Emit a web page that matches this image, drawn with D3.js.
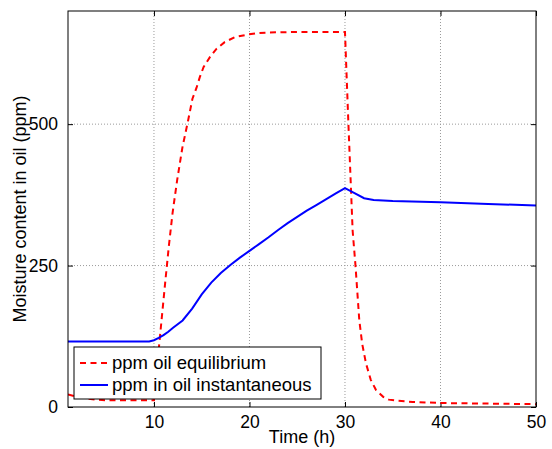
<!DOCTYPE html>
<html>
<head>
<meta charset="utf-8">
<script src="https://cdn.jsdelivr.net/npm/d3@7"></script>
<style>
  body { margin: 0; background: #fff; }
  svg { display: block; font-family: "Liberation Sans", Arial, sans-serif; }
</style>
</head>
<body>
<svg></svg>
<script>
// equilibrium curve (red dashed)
let eqTime = [1, 2, 3, 4, 5, 6, 7, 8, 9, 10, 10.25, 10.54, 10.86, 11.2, 11.55, 11.94, 12.42, 12.98, 13.57, 14.03, 14.45, 14.8, 15.2, 15.84, 16.54, 17.4, 18.5, 19.7, 20.8, 22, 25, 28, 30, 30.36, 30.8, 31.1, 31.5, 31.8, 32.2, 32.7, 33.25, 34, 34.6, 35.5, 37.1, 40, 45, 50]
let eqPpm  = [22, 18, 15, 13, 12, 12, 12, 12, 12, 12, 58, 109, 165, 224, 283, 342, 400, 459, 506, 545, 564, 583, 601, 618, 633, 645, 654, 658, 661, 662, 663, 663, 663, 500, 312, 250, 153, 112, 77, 48, 30, 18, 13, 11, 9, 7, 6, 5]

// instantaneous curve (blue solid)
let instTime = [1, 3, 5, 7, 9, 9.5, 10, 10.5, 11, 11.5, 12, 13, 14, 15, 16, 17, 18, 19, 20, 21, 22, 23, 24, 25, 26, 27, 28, 29, 30, 31, 32, 33, 34, 35, 40, 45, 50]
let instPpm  = [116, 116, 116, 116, 116, 116, 118, 122, 127, 133, 140, 153, 174, 199, 220, 237, 251, 264, 276, 288, 300, 313, 325, 336, 347, 357, 367, 377, 387, 378, 369, 366, 365, 364, 362, 359, 356]

let xTicks = [10, 20, 30, 40, 50]
let yTicks = [0, 250, 500]
let legendLabels = ['ppm oil equilibrium', 'ppm in oil instantaneous']

let width = 552
let height = 449
let margin = {top: 11, right: 16, bottom: 42, left: 68}

let svg = d3.select('svg')
    .attr('width', width)
    .attr('height', height)

let x = d3.scaleLinear()
    .domain([1, 50])
    .range([margin.left, width - margin.right])
let y = d3.scaleLinear()
    .domain([0, 700])
    .range([height - margin.bottom, margin.top])

// grid
svg.append('g')
   .selectAll('line')
   .data(xTicks.filter(d => d < 50))
   .enter()
   .append('line')
   .attr('x1', d => x(d)).attr('x2', d => x(d))
   .attr('y1', y(0)).attr('y2', y(700))
   .attr('stroke', '#9a9a9a')
   .attr('stroke-dasharray', '1,2')
svg.append('g')
   .selectAll('line')
   .data(yTicks.filter(d => d > 0))
   .enter()
   .append('line')
   .attr('y1', d => y(d)).attr('y2', d => y(d))
   .attr('x1', x(1)).attr('x2', x(50))
   .attr('stroke', '#9a9a9a')
   .attr('stroke-dasharray', '1,2')

// axes: ticks inward on all four sides
let tickLen = 5
let xAxisB = d3.axisBottom(x).tickValues(xTicks).tickSize(-tickLen).tickPadding(9)
let xAxisT = d3.axisTop(x).tickValues(xTicks).tickSize(-tickLen).tickFormat('')
let yAxisL = d3.axisLeft(y).tickValues(yTicks).tickSize(-tickLen).tickPadding(10)
let yAxisR = d3.axisRight(y).tickValues(yTicks).tickSize(-tickLen).tickFormat('')

let styleAxis = g => {
    g.select('.domain').remove()
    g.selectAll('line').attr('stroke', '#000')
    g.selectAll('text').attr('fill', '#000').style('font-size', '17.5px')
}

svg.append('g').attr('transform', 'translate(0,' + y(0) + ')').call(xAxisB).call(styleAxis)
svg.append('g').attr('transform', 'translate(0,' + y(700) + ')').call(xAxisT).call(styleAxis)
svg.append('g').attr('transform', 'translate(' + x(1) + ',0)').call(yAxisL).call(styleAxis)
svg.append('g').attr('transform', 'translate(' + x(50) + ',0)').call(yAxisR).call(styleAxis)

// lines
let clip = svg.append('clipPath').attr('id', 'plot')
clip.append('rect')
    .attr('x', x(1)).attr('y', y(700))
    .attr('width', x(50) - x(1)).attr('height', y(0) - y(700))

let line = d3.line()
    .x(d => x(d[0]))
    .y(d => y(d[1]))

svg.append('path')
   .datum(d3.zip(eqTime, eqPpm))
   .attr('clip-path', 'url(#plot)')
   .attr('d', line)
   .attr('fill', 'none')
   .attr('stroke', '#ff0000')
   .attr('stroke-width', 2)
   .attr('stroke-dasharray', '6,4.5')

svg.append('path')
   .datum(d3.zip(instTime, instPpm))
   .attr('clip-path', 'url(#plot)')
   .attr('d', line)
   .attr('fill', 'none')
   .attr('stroke', '#0000ff')
   .attr('stroke-width', 2)

// box
svg.append('rect')
   .attr('x', x(1)).attr('y', y(700))
   .attr('width', x(50) - x(1)).attr('height', y(0) - y(700))
   .attr('fill', 'none')
   .attr('stroke', '#000')

// axis labels
svg.append('text')
   .attr('x', (x(1) + x(50)) / 2)
   .attr('y', 443)
   .attr('text-anchor', 'middle')
   .style('font-size', '18px')
   .text('Time (h)')
svg.append('text')
   .attr('transform', 'translate(26,' + (y(0) + y(700)) / 2 + ') rotate(-90)')
   .attr('text-anchor', 'middle')
   .style('font-size', '18px')
   .text('Moisture content in oil (ppm)')

// legend
let legend = svg.append('g').attr('transform', 'translate(74,347)')
legend.append('rect')
      .attr('width', 247).attr('height', 52)
      .attr('fill', '#fff')
      .attr('stroke', '#000')

let legendItems = legend.selectAll('.item')
    .data(legendLabels)
    .enter()
    .append('g')
    .attr('class', 'item')
    .attr('transform', (d, i) => 'translate(0,' + (16 + i * 22) + ')')

legendItems.append('line')
    .attr('x1', 6).attr('x2', 34)
    .attr('stroke', (d, i) => i == 0 ? '#ff0000' : '#0000ff')
    .attr('stroke-width', 2)
    .attr('stroke-dasharray', (d, i) => i == 0 ? '6,4.5' : null)

legendItems.append('text')
    .attr('x', 38)
    .attr('dy', '0.35em')
    .style('font-size', '18.5px')
    .text(d => d)
</script>
</body>
</html>
